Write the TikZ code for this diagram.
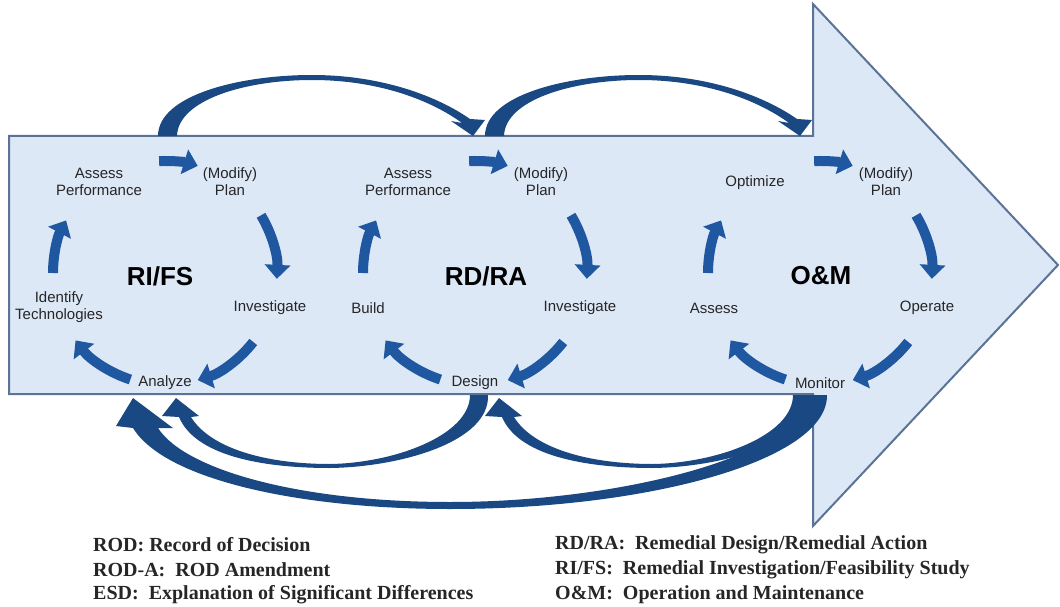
\documentclass[tikz,border=0pt]{standalone}
\usepackage{fontspec}
\newfontfamily\labfont{Liberation Sans}
\newfontfamily\legfont{Liberation Serif}
\usetikzlibrary{arrows.meta,calc}
\definecolor{bodyfill}{HTML}{DDE8F7}
\definecolor{bodyline}{HTML}{5A7396}
\definecolor{cycblue}{HTML}{1F57A0}
\definecolor{arcblue}{HTML}{1A4883}
\definecolor{txt}{HTML}{262626}
\begin{document}
\begin{tikzpicture}[x=1pt,y=1pt,
 lab/.style={font=\labfont\fontsize{15}{17}\selectfont, text=txt, align=center, inner sep=0pt},
 ttl/.style={font=\labfont\bfseries\fontsize{26}{28}\selectfont, text=black, inner sep=0pt},
 leg/.style={font=\legfont\bfseries\fontsize{20}{22}\selectfont, text=txt, anchor=west, inner sep=0pt},
 cyc/.style={draw=cycblue, line width=10pt, -{Triangle[length=14pt,width=25pt]}},
 arcshape/.style={fill=arcblue}]
\useasboundingbox (0,0) rectangle (1060,-607);

% big arrow
\draw[fill=bodyfill, draw=bodyline, line width=2pt, line join=miter]
  (9,-136) -- (813,-136) -- (813,-4) -- (1058,-265) -- (813,-526) -- (813,-394) -- (9,-394) -- cycle;

% top arcs
\foreach \s in {0,327}{
\begin{scope}[xshift=\s pt]
\fill[arcshape] (158,-136) .. controls (158,-95) and (240,-75) .. (312,-75)
  .. controls (385,-75) and (440,-98) .. (470,-119) -- (485,-120) -- (473,-136) -- (451,-121) -- (462,-123)
  .. controls (432,-101) and (380,-80) .. (312,-80)
  .. controls (245,-80) and (178,-100) .. (177,-136) -- cycle;
\end{scope}}

% bottom arcs (Design -> Analyze, Monitor -> Design)
\foreach \s in {0,323}{
\begin{scope}[xshift=\s pt]
\fill[arcshape] (470,-395) .. controls (470,-435) and (395,-463) .. (330,-464)
  .. controls (265,-464) and (210,-448) .. (191,-417) -- (199,-416) -- (176,-398) -- (162,-416) -- (179,-417)
  .. controls (195,-455) and (260,-468) .. (330,-468)
  .. controls (400,-467) and (490,-442) .. (488,-395) -- cycle;
\end{scope}}
% big bottom arc (Monitor -> Analyze)
\fill[arcshape] (805,-395) .. controls (805,-455) and (620,-502) .. (450,-502)
  .. controls (300,-502) and (185,-470) .. (158,-428) -- (173,-428) -- (133,-398) -- (116,-426) -- (133,-428)
  .. controls (165,-480) and (300,-509) .. (450,-509)
  .. controls (650,-509) and (828,-460) .. (827,-395) -- cycle;

% cycle centres
\coordinate (c1) at (165,-273);
\coordinate (c2) at (475,-273);
\coordinate (c3) at (820,-273);
\foreach \c in {c1,c2,c3}{
  \draw[cyc] ($(\c)+(93:112)$) arc[start angle=93,end angle=73,radius=112];
  \draw[cyc] ($(\c)+(31:112)$) arc[start angle=31,end angle=-3,radius=112];
  \draw[cyc] ($(\c)+(-38:112)$) arc[start angle=-38,end angle=-73,radius=112];
  \draw[cyc] ($(\c)+(-108:112)$) arc[start angle=-108,end angle=-143,radius=112];
  \draw[cyc] ($(\c)+(180:112)$) arc[start angle=180,end angle=152,radius=112];
}

% cycle 1
\node[lab] (ap1) at (99,-182) {Assess\\Performance};
\node[lab] (pl1) at (230,-182) {(Modify)\\Plan};
\node[lab] (in1) at (270,-308) {Investigate};
\node[lab] (an1) at (165,-383) {Analyze};
\node[lab] (id1) at (59,-307) {Identify\\Technologies};
\node[ttl] (t1) at (160,-276) {RI/FS};
% cycle 2
\node[lab] (ap2) at (408,-182) {Assess\\Performance};
\node[lab] (pl2) at (541,-182) {(Modify)\\Plan};
\node[lab] (in2) at (580,-308) {Investigate};
\node[lab] (de2) at (475,-383) {Design};
\node[lab] (bu2) at (368,-308) {Build};
\node[ttl] (t2) at (486,-276) {RD/RA};
% cycle 3
\node[lab] (op3) at (755,-183) {Optimize};
\node[lab] (pl3) at (886,-182) {(Modify)\\Plan};
\node[lab] (or3) at (927,-308) {Operate};
\node[lab] (mo3) at (820,-383) {Monitor};
\node[lab] (as3) at (714,-308) {Assess};
\node[ttl] (t3) at (821,-276) {O\&M};

% legend
\node[leg] (l1) at (93,-545) {ROD: Record of Decision};
\node[leg] (l2) at (93,-570) {ROD-A:\ \ ROD Amendment};
\node[leg] (l3) at (93,-595) {ESD:\ \ Explanation of Significant Differences};
\node[leg] (r1) at (555,-545) {RD/RA:\ \ Remedial Design/Remedial Action};
\node[leg] (r2) at (555,-570) {RI/FS:\ \ Remedial Investigation/Feasibility Study};
\node[leg] (r3) at (555,-595) {O\&M:\ \ Operation and Maintenance};
\end{tikzpicture}
\end{document}
